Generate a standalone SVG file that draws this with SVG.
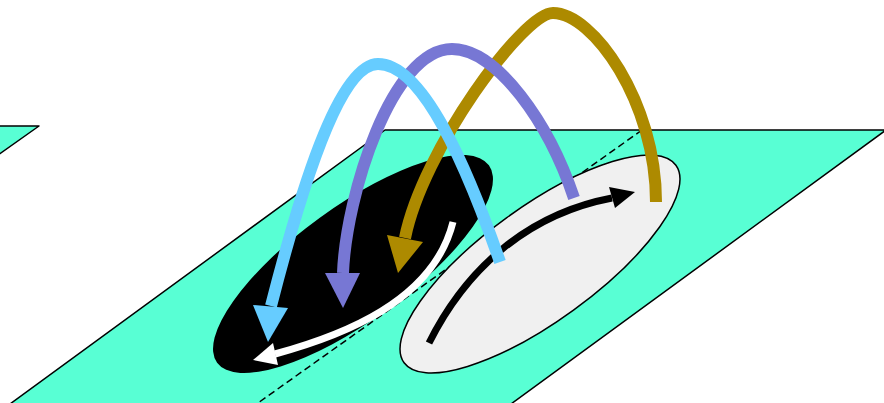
<svg xmlns="http://www.w3.org/2000/svg" width="884" height="403" viewBox="0 0 884 403">
<style>
.plane{fill:#58FFD4;stroke:#000;stroke-width:1.5;stroke-linejoin:round}
.dash{fill:none;stroke:#000;stroke-width:1.5;stroke-dasharray:7 4}
.arc{fill:none;stroke-width:12;stroke-linecap:butt}
.ring{fill:none;stroke-width:7}
</style>
<rect width="884" height="403" fill="#fff"/>
<g id="plane-left"><polygon class="plane" points="-2,126 39,126 -2,155"/></g>
<g id="plane"><polygon class="plane" points="385,130 886,130 511,404 10,404"/></g>
<line class="dash" x1="642" y1="130" x2="258" y2="403"/>
<g id="black-disk">
<ellipse cx="353" cy="264" rx="168" ry="57" transform="rotate(-36 353 264)" fill="#000"/>
<path class="ring" stroke="#fff" d="M453,222 C433,302 341,336 275,354"/>
<polygon fill="#fff" points="253,360 273,343 278,365"/>
</g>
<g id="white-disk">
<ellipse cx="540" cy="264" rx="168" ry="57" transform="rotate(-36 540 264)" fill="#F0F0F0" stroke="#000" stroke-width="1.5"/>
<path class="ring" stroke="#000" d="M429,343 C466.5,268 528,214 612,198"/>
<polygon fill="#000" points="635,192 609,187 615,208"/>
</g>
<g id="connectors">
<path class="arc" stroke="#AD8A00" d="M656,202 C656,102 593,13 553,13 C523,13 422.5,150.5 405,238"/>
<polygon fill="#AD8A00" points="398,273 387,235 423,242"/>
<path class="arc" stroke="#7777D4" d="M574,198 C549,123 497,49 452,49 C392,49 346,195 343,273"/>
<polygon fill="#7777D4" points="343,308 325,273 360,273"/>
<path class="arc" stroke="#66CCFF" d="M500,262 C467.5,168.4 423,64 378,64 C338,64 298.5,198.5 271,306"/>
<polygon fill="#66CCFF" points="268,342 253,305 288,308"/>
</g>
</svg>
